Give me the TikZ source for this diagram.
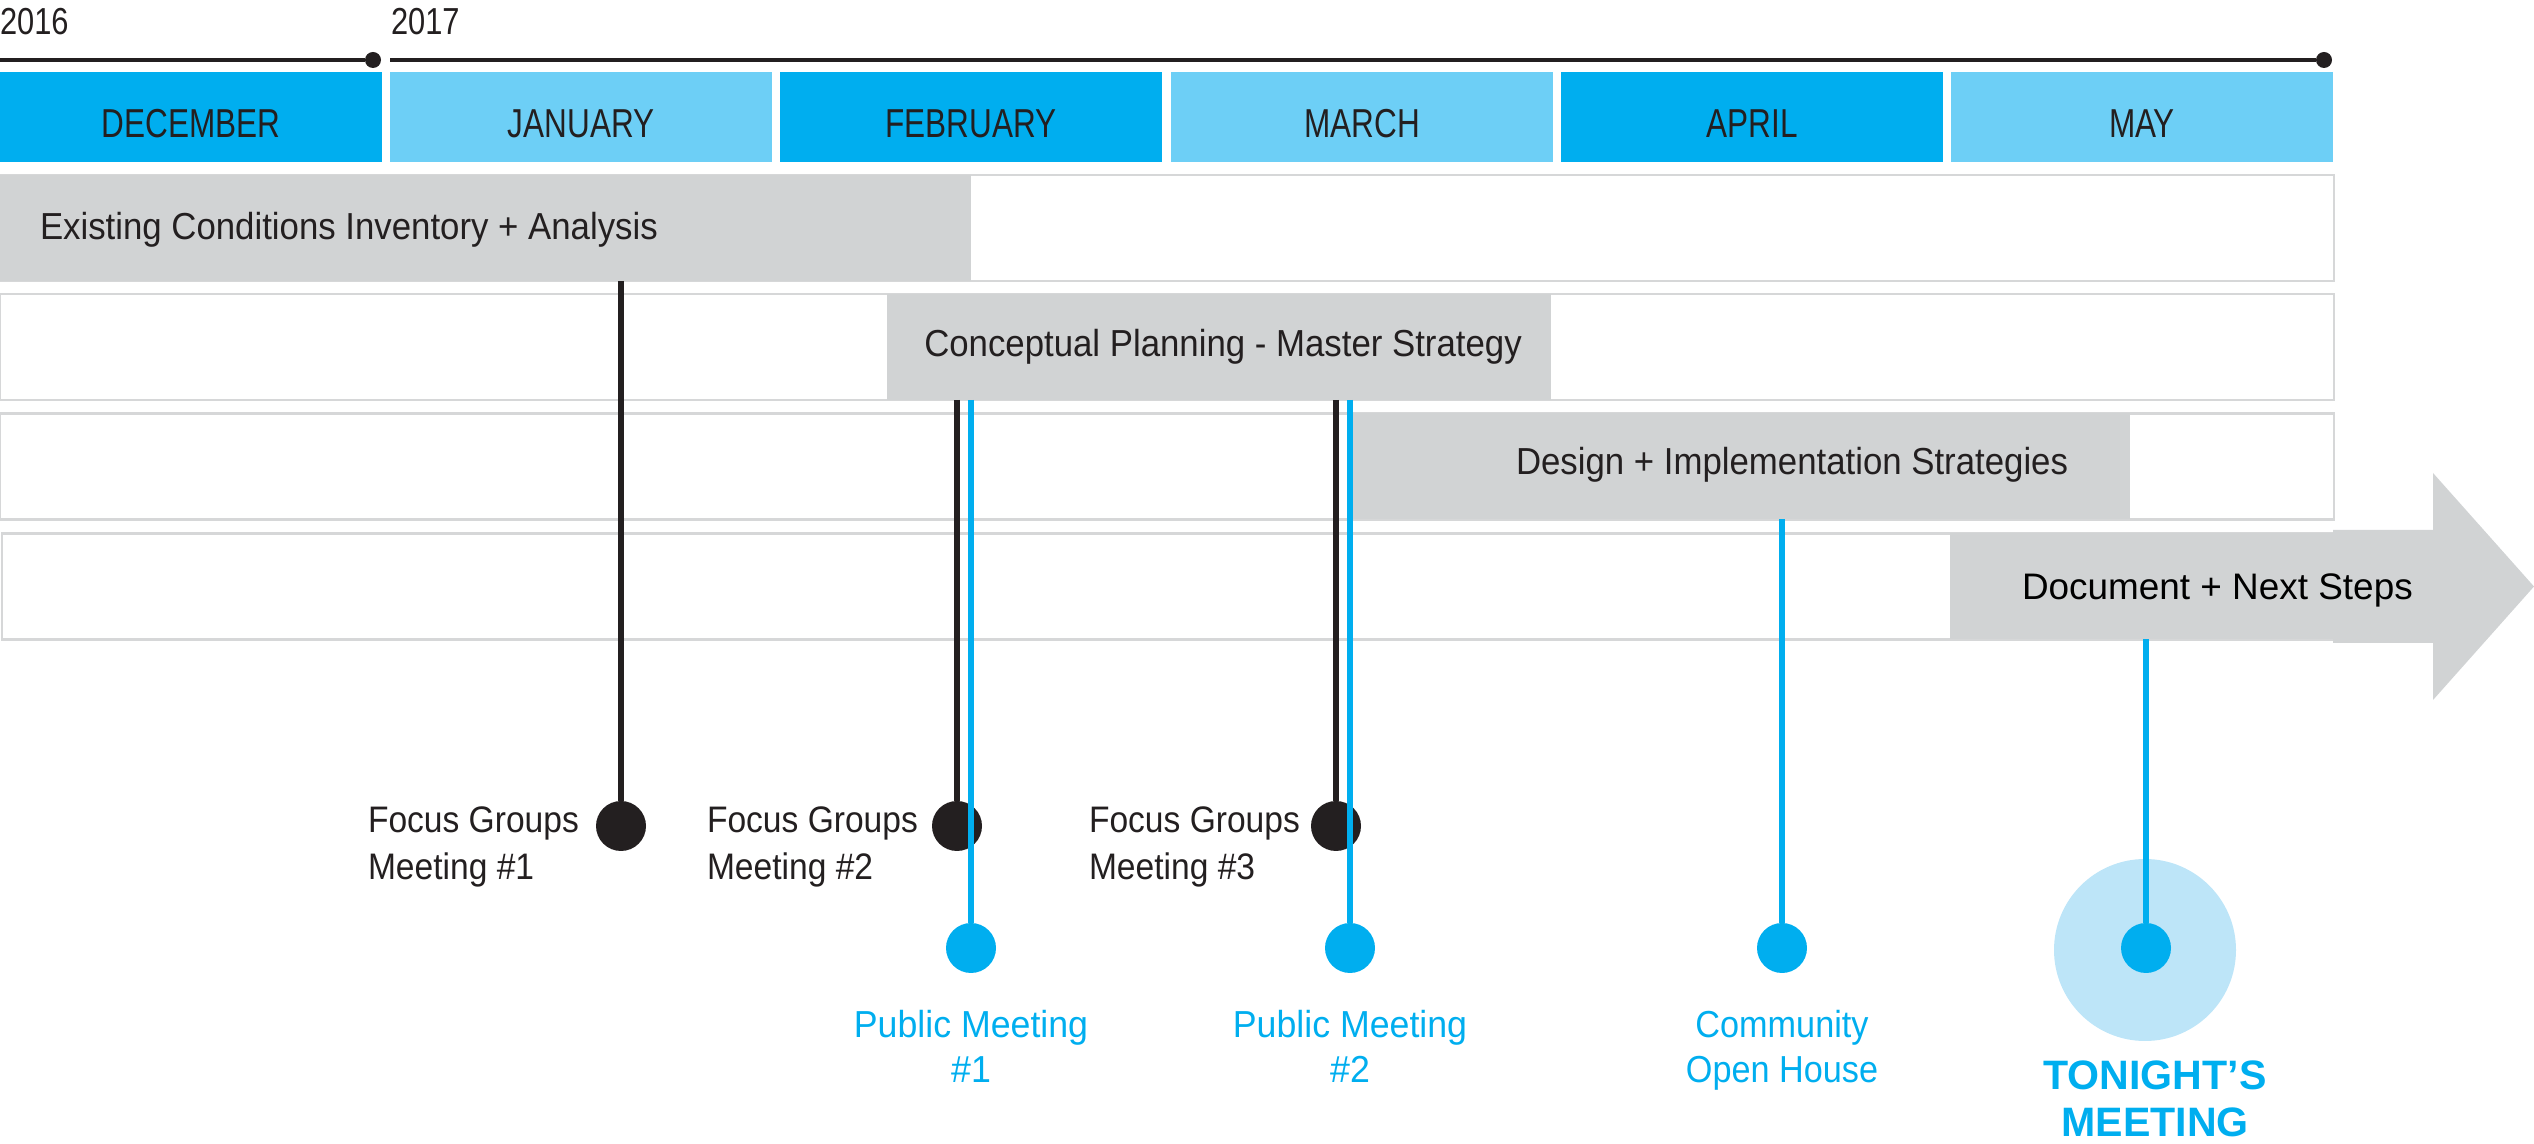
\documentclass[tikz,border=0pt]{standalone}
\usepackage{fontspec}
\usepackage{xcolor}
\usepackage{tikz}
\usetikzlibrary{positioning}
\setmainfont{Liberation Sans}
\newfontfamily\condfont[FakeStretch=0.91]{Liberation Sans}
\newfontfamily\taskfont[FakeStretch=0.925]{Liberation Sans}
\newfontfamily\pubfont[FakeStretch=0.95]{Liberation Sans}
\newfontfamily\monthfont[FakeStretch=0.78]{Liberation Sans}
\newfontfamily\yearfont[FakeStretch=0.82]{Liberation Sans}
\definecolor{cyanDark}{HTML}{00AEEF}
\definecolor{cyanLight}{HTML}{6DCFF6}
\definecolor{cyanHalo}{HTML}{BDE5F8}
\definecolor{barGray}{HTML}{D1D3D4}
\definecolor{rowLine}{HTML}{D6D7D8}
\definecolor{ink}{HTML}{231F20}

\begin{document}
\begin{tikzpicture}[
  inner sep=0pt, outer sep=0pt,
  year/.style={font=\yearfont\fontsize{10.7}{13}\selectfont, text=ink, anchor=base west},
  tick/.style={circle, fill=ink, minimum size=1.6mm},
  rule/.style={draw=ink, line width=1pt},
  month/.style={font=\monthfont\fontsize{11.5}{13}\selectfont, text=ink,
                minimum width=3.82cm, text height=18.5pt, text depth=7.1pt},
  row/.style={draw=rowLine, line width=0.6pt, fill=white, minimum height=1.06cm, anchor=west},
  bar/.style={fill=barGray, minimum height=1.06cm, anchor=west},
  task/.style={font=\taskfont\fontsize{10.7}{13}\selectfont, text=ink},
  dot/.style={circle, fill=ink, minimum size=5mm},
  pdot/.style={circle, fill=cyanDark, minimum size=5mm},
  stem/.style={draw=ink, line width=1.7pt},
  pstem/.style={draw=cyanDark, line width=1.7pt},
  meet/.style={font=\condfont\fontsize{10.5}{13.4}\selectfont, text=ink, align=left, anchor=north west},
  pub/.style={font=\pubfont\fontsize{10.7}{12.8}\selectfont, text=cyanDark, align=center, anchor=north},
  tonight/.style={font=\bfseries\fontsize{11.7}{13.2}\selectfont, text=cyanDark, align=center, anchor=north}
]
\useasboundingbox (0,0) rectangle (25.34,-11.44);

\node[year] (y2016) at (0,-0.35) {2016};
\node[year] (y2017) at (3.91,-0.35) {2017};
\node[tick] (t0) at (3.73,-0.60) {};
\node[tick] (t1) at (23.24,-0.60) {};
\coordinate (tl) at (0,-0.60);
\coordinate (tr) at (3.90,-0.60);
\draw[rule] (tl) -- (t0);
\draw[rule] (tr) -- (t1);

\node[month, fill=cyanDark] (dec) at (1.91,-1.17) {DECEMBER};
\node[month, fill=cyanLight] (jan) at (5.81,-1.17) {JANUARY};
\node[month, fill=cyanDark] (feb) at (9.71,-1.17) {FEBRUARY};
\node[month, fill=cyanLight] (mar) at (13.62,-1.17) {MARCH};
\node[month, fill=cyanDark] (apr) at (17.52,-1.17) {APRIL};
\node[month, fill=cyanLight] (may) at (21.42,-1.17) {MAY};

\node[row, minimum width=23.34cm] (row1) at (0,-2.28) {};
\node[row, minimum width=23.34cm] (row2) at (0,-3.47) {};
\node[row, minimum width=23.34cm] (row3) at (0,-4.665) {};
\node[row, minimum width=23.31cm] (row4) at (0.02,-5.865) {};

\node[bar, minimum width=9.71cm] (bar1) at (0,-2.28) {};
\node[bar, minimum width=6.64cm] (bar2) at (8.87,-3.47) {};
\node[bar, minimum width=7.79cm] (bar3) at (13.51,-4.665) {};
\node[bar, minimum width=3.83cm] (bar4) at (19.50,-5.865) {};
\fill[barGray] (23.33,-5.30) -- (24.33,-5.30) -- (24.33,-4.73) -- (25.34,-5.865)
  -- (24.33,-7.00) -- (24.33,-6.43) -- (23.33,-6.43) -- cycle;

\node[task, anchor=base west] (existing) at (0.40,-2.40) {Existing Conditions Inventory + Analysis};
\node[task, anchor=base] (concept) at (12.23,-3.57) {Conceptual Planning - Master Strategy};
\node[task, anchor=base west] (design) at (15.16,-4.75) {Design + Implementation Strategies};
\node[font=\fontsize{10.5}{13}\selectfont, text=black, anchor=base west] (docsteps) at (20.22,-6.00) {Document + Next Steps};

\node[circle, fill=cyanHalo, minimum size=18.2mm] (halo) at (21.45,-9.50) {};

\node[dot] (fg1) at (6.21,-8.26) {};
\node[dot] (fg2) at (9.57,-8.26) {};
\node[dot] (fg3) at (13.36,-8.26) {};
\node[pdot] (pm1) at (9.71,-9.48) {};
\node[pdot] (pm2) at (13.50,-9.48) {};
\node[pdot] (house) at (17.82,-9.48) {};
\node[pdot] (now) at (21.46,-9.48) {};

\draw[stem] (fg1 |- row1.south) -- (fg1);
\draw[stem] (fg2 |- row2.south) -- (fg2);
\draw[stem] (fg3 |- row2.south) -- (fg3);
\draw[pstem] (pm1 |- row2.south) -- (pm1);
\draw[pstem] (pm2 |- row2.south) -- (pm2);
\draw[pstem] (house |- row3.south) -- (house);
\draw[pstem] (now |- row4.south) -- (now);

\node[meet] (fg1txt) at (3.68,-8.07) {Focus Groups\\Meeting \#1};
\node[meet] (fg2txt) at (7.07,-8.07) {Focus Groups\\Meeting \#2};
\node[meet] (fg3txt) at (10.89,-8.07) {Focus Groups\\Meeting \#3};
\node[pub] (pm1txt) at (9.71,-10.10) {Public Meeting\\\#1};
\node[pub] (pm2txt) at (13.50,-10.10) {Public Meeting\\\#2};
\node[pub, font=\condfont\fontsize{10.7}{12.8}\selectfont] (housetxt) at (17.82,-10.10) {Community\\Open House};
\node[tonight] (nowtxt) at (21.55,-10.61) {TONIGHT’S\\MEETING};
\end{tikzpicture}
\end{document}
